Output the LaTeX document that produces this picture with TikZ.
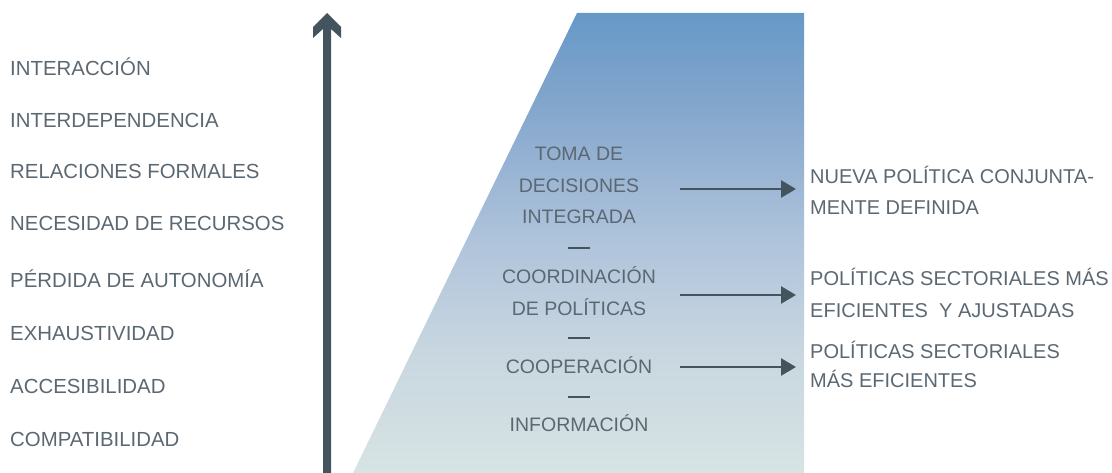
\documentclass[tikz,border=0pt]{standalone}
\usepackage{fontspec}
\setmainfont{Liberation Sans}
\usetikzlibrary{arrows.meta}
\definecolor{txt}{HTML}{5B6872}
\definecolor{arr}{HTML}{44545F}
\definecolor{g0}{HTML}{D6E4E4}
\definecolor{g1}{HTML}{C8D6E0}
\definecolor{g2}{HTML}{AFC3DB}
\definecolor{g3}{HTML}{82A5CC}
\definecolor{g4}{HTML}{6699C8}
\pgfdeclareverticalshading{pyr}{100bp}{color(0bp)=(g0); color(25bp)=(g0); color(38.4bp)=(g1); color(50.3bp)=(g2); color(65.5bp)=(g3); color(75bp)=(g4); color(100bp)=(g4)}
\tikzset{
  lbl/.style={text=txt, inner sep=0pt},
  leftlbl/.style={lbl, anchor=base west, font=\fontsize{20.4}{24}\selectfont},
  midlbl/.style={lbl, anchor=base, font=\fontsize{19.5}{23}\selectfont},
  rightlbl/.style={lbl, anchor=base west, font=\fontsize{20}{24}\selectfont},
  sep/.style={inner sep=0pt, anchor=center},
  outarrow/.style={draw=arr, line width=2.6pt, -{Triangle[length=15pt,width=17pt]}},
}
\begin{document}
\begin{tikzpicture}[x=1pt,y=-1pt]
\useasboundingbox (0,0) rectangle (1112,473);
% gradient trapezoid
\shade[shading=pyr] (577,13) -- (804,13) -- (804,473) -- (353,473) -- cycle;
% vertical arrow
\fill[arr] (327,13) -- (341,27) -- (341,38) -- (331,29) -- (331,473) -- (323,473) -- (323,29) -- (313,38) -- (313,27) -- cycle;
% left labels
\node[leftlbl] (l1) at (10,76) {INTERACCIÓN};
\node[leftlbl] (l2) at (10,128) {INTERDEPENDENCIA};
\node[leftlbl] (l3) at (10,179) {RELACIONES FORMALES};
\node[leftlbl] (l4) at (10,231) {NECESIDAD DE RECURSOS};
\node[leftlbl] (l5) at (10,288) {PÉRDIDA DE AUTONOMÍA};
\node[leftlbl] (l6) at (10,341) {EXHAUSTIVIDAD};
\node[leftlbl] (l7) at (10,393) {ACCESIBILIDAD};
\node[leftlbl] (l8) at (10,446) {COMPATIBILIDAD};
% middle labels
\node[midlbl] (m1a) at (579,161) {TOMA DE};
\node[midlbl] (m1b) at (579,193) {DECISIONES};
\node[midlbl] (m1c) at (579,224) {INTEGRADA};
\node[sep] (d1) at (579,248) {\color{arr}\rule{22pt}{2.6pt}};
\node[midlbl] (m2a) at (579,284) {COORDINACIÓN};
\node[midlbl] (m2b) at (579,316) {DE POLÍTICAS};
\node[sep] (d2) at (579,338) {\color{arr}\rule{22pt}{2.6pt}};
\node[midlbl] (m3) at (579,373) {COOPERACIÓN};
\node[sep] (d3) at (579,397) {\color{arr}\rule{22pt}{2.6pt}};
\node[midlbl] (m4) at (579,431) {INFORMACIÓN};
% right labels
\node[rightlbl] (r1a) at (810,184) {NUEVA POLÍTICA CONJUNTA-};
\node[rightlbl] (r1b) at (810,215) {MENTE DEFINIDA};
\node[rightlbl] (r2a) at (810,286) {POLÍTICAS SECTORIALES MÁS};
\node[rightlbl] (r2b) at (810,317) {EFICIENTES\ \ Y AJUSTADAS};
\node[rightlbl] (r3a) at (810,359) {POLÍTICAS SECTORIALES};
\node[rightlbl] (r3b) at (810,387) {MÁS EFICIENTES};
% arrow endpoints
\coordinate (a1s) at (680,189); \coordinate (a1e) at (796,189);
\coordinate (a2s) at (680,295); \coordinate (a2e) at (796,295);
\coordinate (a3s) at (680,367); \coordinate (a3e) at (796,367);
\draw[outarrow] (a1s) -- (a1e);
\draw[outarrow] (a2s) -- (a2e);
\draw[outarrow] (a3s) -- (a3e);
\end{tikzpicture}
\end{document}
